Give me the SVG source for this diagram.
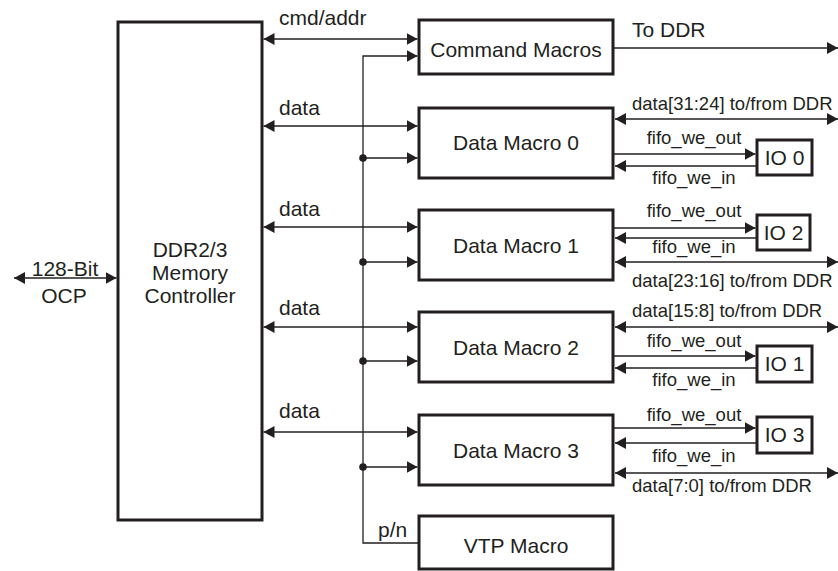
<svg xmlns="http://www.w3.org/2000/svg" width="838" height="571" viewBox="0 0 838 571">
<style>
.box{fill:#fff;stroke:#231f20;stroke-width:3}
.ln{fill:none;stroke:#231f20;stroke-width:1.3}
.a2{marker-start:url(#ah);marker-end:url(#ah)}
.a1{marker-end:url(#ah)}
text{font-family:"Liberation Sans",Arial,sans-serif;fill:#231f20}
.t{font-size:21px}
.s{font-size:18.5px}
.m{text-anchor:middle}
.dot{fill:#231f20}
</style>
<defs>
<marker id="ah" markerUnits="userSpaceOnUse" markerWidth="11" markerHeight="12" refX="11" refY="6" orient="auto-start-reverse">
<path d="M0,0 L11,6 L0,12 z" fill="#231f20"/>
</marker>
</defs>
<rect width="838" height="571" fill="#fff"/>
<g id="connectors">
<line class="ln a2" x1="14" y1="278" x2="116.5" y2="278"/>
<line class="ln a2" x1="263.5" y1="39" x2="417.5" y2="39"/>
<path class="ln a1" d="M419,543 H363 V56 H417.5"/>
<line class="ln a2" x1="263.5" y1="126" x2="417.5" y2="126"/>
<line class="ln a2" x1="263.5" y1="227" x2="417.5" y2="227"/>
<line class="ln a2" x1="263.5" y1="327" x2="417.5" y2="327"/>
<line class="ln a2" x1="263.5" y1="432" x2="417.5" y2="432"/>
<line class="ln a1" x1="363" y1="158" x2="417.5" y2="158"/>
<line class="ln a1" x1="363" y1="262" x2="417.5" y2="262"/>
<line class="ln a1" x1="363" y1="361" x2="417.5" y2="361"/>
<line class="ln a1" x1="363" y1="467" x2="417.5" y2="467"/>
<circle class="dot" cx="363" cy="158" r="3.8"/>
<circle class="dot" cx="363" cy="262" r="3.8"/>
<circle class="dot" cx="363" cy="361" r="3.8"/>
<circle class="dot" cx="363" cy="467" r="3.8"/>
<line class="ln a1" x1="614" y1="48" x2="838" y2="48"/>
<line class="ln a2" x1="615" y1="119" x2="838" y2="119"/>
<line class="ln a2" x1="615" y1="262" x2="838" y2="262"/>
<line class="ln a2" x1="615" y1="327" x2="838" y2="327"/>
<line class="ln a2" x1="615" y1="473" x2="838" y2="473"/>
<line class="ln a1" x1="614" y1="154" x2="755.5" y2="154"/>
<line class="ln a1" x1="757" y1="166" x2="615" y2="166"/>
<line class="ln a1" x1="614" y1="228" x2="755.5" y2="228"/>
<line class="ln a1" x1="757" y1="238" x2="615" y2="238"/>
<line class="ln a1" x1="614" y1="356" x2="755.5" y2="356"/>
<line class="ln a1" x1="757" y1="368" x2="615" y2="368"/>
<line class="ln a1" x1="614" y1="428" x2="755.5" y2="428"/>
<line class="ln a1" x1="757" y1="443" x2="615" y2="443"/>
<text class="t m" x="65" y="276">128-Bit</text>
<text class="t m" x="64" y="303">OCP</text>
<text class="t" x="279" y="25">cmd/addr</text>
<text class="t" x="279" y="115">data</text>
<text class="t" x="279" y="216">data</text>
<text class="t" x="279" y="315">data</text>
<text class="t" x="279" y="418">data</text>
<text class="t" x="378" y="537">p/n</text>
<text class="t" x="632" y="37">To DDR</text>
<text class="s" x="632" y="110">data[31:24] to/from DDR</text>
<text class="s" x="632" y="287">data[23:16] to/from DDR</text>
<text class="s" x="632" y="317">data[15:8] to/from DDR</text>
<text class="s" x="632" y="492">data[7:0] to/from DDR</text>
<text class="s m" x="694" y="144">fifo_we_out</text>
<text class="s m" x="694" y="184">fifo_we_in</text>
<text class="s m" x="694" y="217">fifo_we_out</text>
<text class="s m" x="694" y="253">fifo_we_in</text>
<text class="s m" x="694" y="347">fifo_we_out</text>
<text class="s m" x="694" y="386">fifo_we_in</text>
<text class="s m" x="694" y="421">fifo_we_out</text>
<text class="s m" x="694" y="462">fifo_we_in</text>
</g>
<g id="controller">
<rect class="box" x="118" y="22" width="144" height="498"/>
<text class="t m" x="190" y="257">DDR2/3</text>
<text class="t m" x="190" y="280">Memory</text>
<text class="t m" x="190" y="303">Controller</text>
</g>
<g id="cmd-macros">
<rect class="box" x="419" y="20" width="194" height="54"/>
<text class="t m" x="516" y="57">Command Macros</text>
</g>
<g id="data-macro-0">
<rect class="box" x="419" y="108" width="194" height="70"/>
<text class="t m" x="516" y="150">Data Macro 0</text>
</g>
<g id="data-macro-1">
<rect class="box" x="419" y="210" width="194" height="70"/>
<text class="t m" x="516" y="253">Data Macro 1</text>
</g>
<g id="data-macro-2">
<rect class="box" x="419" y="312" width="194" height="70"/>
<text class="t m" x="516" y="355">Data Macro 2</text>
</g>
<g id="data-macro-3">
<rect class="box" x="419" y="415" width="194" height="70"/>
<text class="t m" x="516" y="458">Data Macro 3</text>
</g>
<g id="vtp-macro">
<rect class="box" x="419" y="516" width="194" height="53"/>
<text class="t m" x="516" y="553">VTP Macro</text>
</g>
<g id="io0">
<rect class="box" x="757" y="140" width="55" height="35"/>
<text class="t m" x="784.5" y="165">IO 0</text>
</g>
<g id="io2">
<rect class="box" x="757" y="215" width="53" height="35"/>
<text class="t m" x="783.5" y="240">IO 2</text>
</g>
<g id="io1">
<rect class="box" x="757" y="346" width="55" height="36"/>
<text class="t m" x="784.5" y="371">IO 1</text>
</g>
<g id="io3">
<rect class="box" x="757" y="417" width="55" height="36"/>
<text class="t m" x="784.5" y="442">IO 3</text>
</g>
</svg>
